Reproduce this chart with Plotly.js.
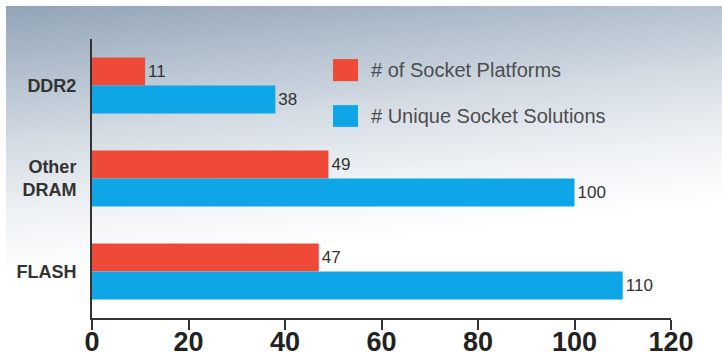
<!DOCTYPE html>
<html>
<head>
<meta charset="utf-8">
<script src="https://cdn.plot.ly/plotly-3.0.1.min.js"></script>
<style>
  html, body { margin:0; padding:0; background:#ffffff; }
  #wrap { position:relative; width:722px; height:358px; overflow:hidden; }
  #bg { position:absolute; left:6px; top:6px; right:0; bottom:0;
        background: linear-gradient(174deg, #92a4b7 0%, #aebccb 14%, #d3dbe3 32%, #f0f3f6 50%, #ffffff 64%, #ffffff 100%); }
  #chart { position:absolute; left:0; top:0; width:722px; height:358px; }
</style>
</head>
<body>
<div id="wrap"><div id="bg"></div><div id="chart"></div></div>
<script>
const categories = ["DDR2", "Other<br>DRAM", "FLASH"];
const seriesNames = ["# of Socket Platforms", "# Unique Socket Solutions"];
const platforms = [11, 49, 47];
const solutions = [38, 100, 110];
const xTicks = [0, 20, 40, 60, 80, 100, 120];
const colors = ["#ee4a37", "#0ea6e6"];

const valueFont = {family: "Liberation Sans, Arial, sans-serif", size: 17, color: "#333333"};

const traces = [
  {type: "bar", orientation: "h", name: seriesNames[0], y: categories, x: platforms,
   marker: {color: colors[0]}, text: platforms.map(String), textposition: "outside",
   textfont: valueFont, cliponaxis: false, hoverinfo: "none"},
  {type: "bar", orientation: "h", name: seriesNames[1], y: categories, x: solutions,
   marker: {color: colors[1]}, text: solutions.map(String), textposition: "outside",
   textfont: valueFont, cliponaxis: false, hoverinfo: "none"}
];

const legendFont = {family: "Liberation Sans, Arial, sans-serif", size: 20, color: "#4d4d4d"};

const layout = {
  width: 722, height: 358,
  margin: {l: 92, r: 51, t: 39, b: 40, pad: 0},
  paper_bgcolor: "rgba(0,0,0,0)",
  plot_bgcolor: "rgba(0,0,0,0)",
  barmode: "group",
  bargap: 0.4,
  bargroupgap: 0,
  showlegend: false,
  xaxis: {
    range: [0, 120], tickvals: xTicks, ticktext: xTicks.map(String),
    showgrid: false, zeroline: false, showline: true, linecolor: "#333333", linewidth: 2,
    ticks: "outside", ticklen: 10, tickwidth: 2, tickcolor: "#333333",
    ticklabelstandoff: -11,
    tickfont: {family: "Liberation Sans, Arial, sans-serif", size: 27, color: "#222222", weight: "bold"},
    fixedrange: true
  },
  yaxis: {
    autorange: "reversed", showgrid: false, zeroline: false,
    showline: true, linecolor: "#333333", linewidth: 2,
    ticks: "outside", ticklen: 10, tickcolor: "rgba(0,0,0,0)",
    tickfont: {family: "Liberation Sans, Arial, sans-serif", size: 18, color: "#333333", weight: "bold"},
    fixedrange: true
  },
  shapes: [
    {type: "rect", xref: "paper", yref: "paper", x0: 0.4162, x1: 0.4594, y0: 0.849, y1: 0.928,
     fillcolor: colors[0], line: {width: 0}},
    {type: "rect", xref: "paper", yref: "paper", x0: 0.4162, x1: 0.4594, y0: 0.685, y1: 0.763,
     fillcolor: colors[1], line: {width: 0}}
  ],
  annotations: [
    {xref: "paper", yref: "paper", x: 0.478, y: 0.889, xanchor: "left", yanchor: "middle",
     text: seriesNames[0], showarrow: false, font: legendFont},
    {xref: "paper", yref: "paper", x: 0.478, y: 0.724, xanchor: "left", yanchor: "middle",
     text: seriesNames[1], showarrow: false, font: legendFont}
  ]
};

Plotly.newPlot("chart", traces, layout, {displayModeBar: false, staticPlot: true});
</script>
</body>
</html>
